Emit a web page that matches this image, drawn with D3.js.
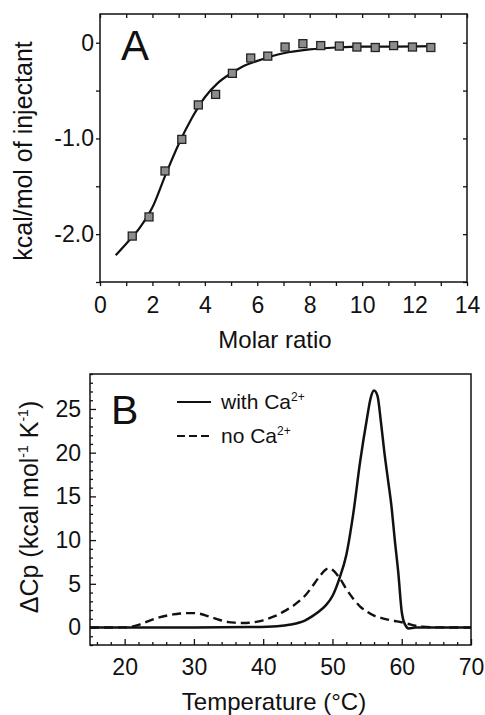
<!DOCTYPE html>
<html>
<head>
<meta charset="utf-8">
<script src="https://cdn.jsdelivr.net/npm/d3@7"></script>
<style>
  body { margin: 0; background: #fff; }
  svg { font-family: "Liberation Sans", Arial, sans-serif; }
  .axis path { display: none; }
  .axis line { stroke: #111; stroke-width: 1.3; }
  .axis text { font-size: 23px; fill: #111; font-family: "Liberation Sans", Arial, sans-serif; }
</style>
</head>
<body>
<div id="chart"></div>
<script>
// panel A: ITC puntos y ajuste
const itcRatio = [1.23, 1.87, 2.48, 3.12, 3.75, 4.41, 5.05, 5.75, 6.40, 7.06, 7.74, 8.42, 9.13, 9.80, 10.50, 11.20, 11.92, 12.62];
const itcHeat = [-2.02, -1.82, -1.34, -1.01, -0.65, -0.54, -0.32, -0.16, -0.14, -0.045, -0.01, -0.03, -0.035, -0.045, -0.05, -0.03, -0.045, -0.05];
const fitRatio = [0.6, 1.0, 1.5, 2.0, 2.5, 3.0, 3.5, 4.0, 4.5, 5.0, 5.5, 6.0, 7.0, 8.0, 9.0, 10.0, 11.0, 12.7];
const fitHeat = [-2.22, -2.1, -1.94, -1.72, -1.38, -1.06, -0.79, -0.57, -0.42, -0.32, -0.24, -0.19, -0.11, -0.07, -0.05, -0.04, -0.04, -0.035];
const ratioTicks = d3.range(0, 15);
const heatTicks = [-2.5, -2.0, -1.5, -1.0, -0.5, 0];
const heatLabels = { "0": "0", "-1": "-1.0", "-2": "-2.0" };

// panel B: DSC con y sin calcio
const tempWith = [15, 20, 30, 38, 42, 44, 46, 47, 48, 49, 50, 51, 52, 53, 54, 55, 55.5, 56, 56.5, 57, 57.5, 58, 58.5, 59, 59.5, 60, 60.5, 61, 62, 70];
const cpWith = [0, 0, 0, 0.05, 0.15, 0.35, 0.8, 1.25, 1.8, 2.5, 3.6, 5.6, 8.3, 13, 19, 24, 26.2, 27.1, 26.5, 23.5, 20, 17, 14, 10, 6.3, 1.8, 0.3, -0.1, 0, 0];
const tempNo = [15, 20, 21, 22, 23, 24, 25, 26, 27, 28, 29, 30, 31, 32, 33, 34, 35, 36, 37, 38, 39, 40, 41, 42, 43, 44, 45, 46, 47, 48, 49, 49.5, 50, 51, 52, 53, 54, 55, 56, 57, 58, 59, 60, 61, 62, 63, 65, 70];
const cpNo = [0, 0.02, 0.1, 0.3, 0.6, 0.9, 1.15, 1.35, 1.5, 1.6, 1.65, 1.65, 1.55, 1.3, 1.05, 0.8, 0.62, 0.55, 0.52, 0.55, 0.65, 0.82, 1.1, 1.4, 1.85, 2.3, 2.9, 3.6, 4.6, 5.7, 6.6, 6.8, 6.6, 5.7, 4.4, 3.3, 2.4, 1.8, 1.35, 1.1, 0.9, 0.75, 0.6, 0.4, 0.2, 0.1, 0.02, 0];
const tempMajor = [20, 30, 40, 50, 60, 70];
const tempMinor = d3.range(16, 70, 2).filter((d) => d % 10 !== 0);
const cpMajor = [0, 5, 10, 15, 20, 25];
const cpMinor = d3.range(-2, 30).filter((d) => d % 5 !== 0);
const seriesNames = ["with Ca", "no Ca"];

const svg = d3.select("#chart")
  .append("svg")
  .attr("width", 485)
  .attr("height", 715);

// ---------- panel A ----------
const mA = { left: 100, right: 467, top: 14, bottom: 282 };
const xA = d3.scaleLinear().domain([0, 14]).range([mA.left, mA.right]);
const yA = d3.scaleLinear().domain([-2.5, 0.3]).range([mA.bottom, mA.top]);

svg.append("g").attr("class", "axis")
  .attr("transform", `translate(0,${mA.bottom})`)
  .call(d3.axisBottom(xA).tickValues(ratioTicks).tickSize(4).tickPadding(11)
    .tickFormat((d) => (d % 2 ? "" : d)));
svg.append("g").attr("class", "axis")
  .attr("transform", `translate(0,${mA.top})`)
  .call(d3.axisTop(xA).tickValues(ratioTicks).tickSize(-4).tickFormat(""));
svg.append("g").attr("class", "axis")
  .attr("transform", `translate(${mA.left},0)`)
  .call(d3.axisLeft(yA).tickValues(heatTicks).tickSize(4).tickPadding(2)
    .tickFormat((d) => heatLabels[String(d)] || ""));
svg.append("g").attr("class", "axis")
  .attr("transform", `translate(${mA.right},0)`)
  .call(d3.axisRight(yA).tickValues(heatTicks).tickSize(-4).tickFormat(""));

svg.append("rect")
  .attr("x", mA.left).attr("y", mA.top)
  .attr("width", mA.right - mA.left).attr("height", mA.bottom - mA.top)
  .attr("fill", "none").attr("stroke", "#111").attr("stroke-width", 1.5);

// curva de ajuste
const fitData = fitRatio.map((d, i) => ({ x: d, y: fitHeat[i] }));
svg.append("path")
  .datum(fitData)
  .attr("fill", "none")
  .attr("stroke", "#111")
  .attr("stroke-width", 2.2)
  .attr("d", d3.line().x((d) => xA(d.x)).y((d) => yA(d.y)).curve(d3.curveMonotoneX));

// puntos cuadrados
const itcData = itcRatio.map((d, i) => ({ x: d, y: itcHeat[i] }));
svg.append("g").selectAll("rect")
  .data(itcData)
  .enter()
  .append("rect")
  .attr("x", (d) => xA(d.x) - 4)
  .attr("y", (d) => yA(d.y) - 4)
  .attr("width", 8)
  .attr("height", 8)
  .attr("fill", "#8c8c8c")
  .attr("stroke", "#222")
  .attr("stroke-width", 1.3);

svg.append("text")
  .attr("x", 121).attr("y", 60)
  .attr("font-size", 42)
  .attr("fill", "#111")
  .text("A");

svg.append("text")
  .attr("x", 275).attr("y", 348)
  .attr("text-anchor", "middle")
  .attr("font-size", 24)
  .attr("fill", "#111")
  .text("Molar ratio");

svg.append("text")
  .attr("transform", "translate(32,151) rotate(-90)")
  .attr("text-anchor", "middle")
  .attr("font-size", 25)
  .attr("fill", "#111")
  .text("kcal/mol of injectant");

// ---------- panel B ----------
const mB = { left: 90, right: 471, top: 374, bottom: 645 };
const xB = d3.scaleLinear().domain([15, 70]).range([mB.left, mB.right]);
const yB = d3.scaleLinear().domain([-2, 29]).range([mB.bottom, mB.top]);

svg.append("g").attr("class", "axis")
  .attr("transform", `translate(0,${mB.bottom})`)
  .call(d3.axisBottom(xB).tickValues(tempMinor).tickSize(-3).tickFormat(""));
svg.append("g").attr("class", "axis")
  .attr("transform", `translate(0,${mB.bottom})`)
  .call(d3.axisBottom(xB).tickValues(tempMajor).tickSize(-6).tickPadding(14));
svg.append("g").attr("class", "axis")
  .attr("transform", `translate(${mB.left},0)`)
  .call(d3.axisLeft(yB).tickValues(cpMinor).tickSize(-3).tickFormat(""));
svg.append("g").attr("class", "axis")
  .attr("transform", `translate(${mB.left},0)`)
  .call(d3.axisLeft(yB).tickValues(cpMajor).tickSize(-6).tickPadding(9));

svg.append("defs").append("clipPath").attr("id", "clipB")
  .append("rect")
  .attr("x", mB.left).attr("y", mB.top)
  .attr("width", mB.right - mB.left).attr("height", mB.bottom - mB.top);

const lineB = d3.line().x((d) => xB(d.x)).y((d) => yB(d.y)).curve(d3.curveMonotoneX);
const withData = tempWith.map((d, i) => ({ x: d, y: cpWith[i] }));
const noData = tempNo.map((d, i) => ({ x: d, y: cpNo[i] }));

svg.append("path")
  .datum(noData)
  .attr("clip-path", "url(#clipB)")
  .attr("fill", "none")
  .attr("stroke", "#111")
  .attr("stroke-width", 2.4)
  .attr("stroke-dasharray", "9,5")
  .attr("d", lineB);

svg.append("path")
  .datum(withData)
  .attr("clip-path", "url(#clipB)")
  .attr("fill", "none")
  .attr("stroke", "#111")
  .attr("stroke-width", 2.5)
  .attr("d", lineB);

svg.append("rect")
  .attr("x", mB.left).attr("y", mB.top)
  .attr("width", mB.right - mB.left).attr("height", mB.bottom - mB.top)
  .attr("fill", "none").attr("stroke", "#111").attr("stroke-width", 1.5);

svg.append("text")
  .attr("x", 111).attr("y", 424)
  .attr("font-size", 41)
  .attr("fill", "#111")
  .text("B");

// leyenda
const legend = svg.append("g").selectAll("g")
  .data(seriesNames)
  .enter()
  .append("g")
  .attr("transform", (d, i) => `translate(0,${i === 0 ? 402 : 436})`);

legend.append("line")
  .attr("x1", 177).attr("x2", 211)
  .attr("stroke", "#111")
  .attr("stroke-width", 2.2)
  .attr("stroke-dasharray", (d, i) => (i === 0 ? null : "8,4"));

const legText = legend.append("text")
  .attr("x", 221).attr("y", 7)
  .attr("font-size", 21)
  .attr("fill", "#111")
  .text((d) => d);
legText.append("tspan")
  .attr("dy", -8)
  .attr("font-size", 12)
  .text("2+");

svg.append("text")
  .attr("x", 274).attr("y", 710)
  .attr("text-anchor", "middle")
  .attr("font-size", 24)
  .attr("fill", "#111")
  .text("Temperature (°C)");

const yLabB = svg.append("text")
  .attr("transform", "translate(38,507) rotate(-90)")
  .attr("text-anchor", "middle")
  .attr("font-size", 25)
  .attr("fill", "#111");
yLabB.append("tspan").text("ΔCp (kcal mol");
yLabB.append("tspan").attr("dy", -10).attr("font-size", 14).text("-1");
yLabB.append("tspan").attr("dy", 10).text(" K");
yLabB.append("tspan").attr("dy", -10).attr("font-size", 14).text("-1");
yLabB.append("tspan").attr("dy", 10).text(")");
</script>
</body>
</html>
